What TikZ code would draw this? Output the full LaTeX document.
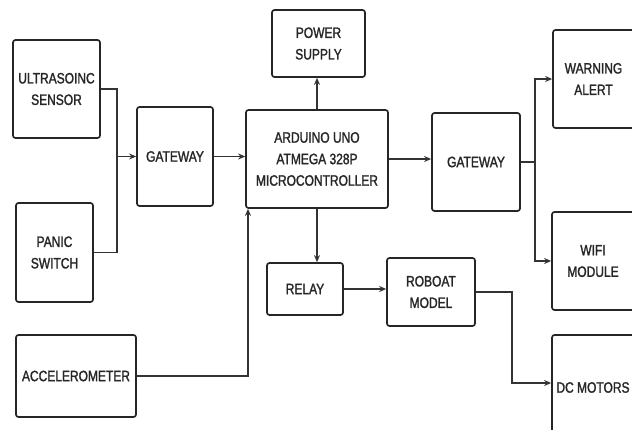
\documentclass[tikz,border=0pt]{standalone}
\usepackage{fontspec}
\setmainfont{Liberation Sans}[FakeStretch=0.8,FakeBold=1.5]
\usetikzlibrary{arrows.meta}
\begin{document}
\begin{tikzpicture}[x=1pt,y=-1pt,
  blk/.style={draw=black!85,line width=1.7pt,rounded corners=2.5pt,inner sep=0pt,align=center,
    font=\fontsize{15}{21.5}\selectfont,text=black!85},
  conn/.style={draw=black!80,line width=1.3pt},
  arr/.style={conn,-{Stealth[length=7pt,width=6pt]}}]
\useasboundingbox[fill=white] (0,0) rectangle (632,430);
\node[blk,minimum width=87pt,minimum height=98pt] (us) at (56.5,89) {ULTRASOINC\\SENSOR};
\node[blk,minimum width=77pt,minimum height=99pt] (ps) at (54.5,252.5) {PANIC\\SWITCH};
\node[blk,minimum width=120pt,minimum height=82pt] (acc) at (76,376) {ACCELEROMETER};
\node[blk,minimum width=76pt,minimum height=99pt] (gw1) at (175,156.5) {GATEWAY};
\node[blk,minimum width=142pt,minimum height=98pt] (ard) at (317,159) {ARDUINO UNO\\ATMEGA 328P\\MICROCONTROLLER};
\node[blk,minimum width=93pt,minimum height=67pt] (pwr) at (318.5,43.5) {POWER\\SUPPLY};
\node[blk,minimum width=88pt,minimum height=98pt] (gw2) at (476,162) {GATEWAY};
\node[blk,minimum width=81pt,minimum height=98pt] (warn) at (593.5,79) {WARNING\\ALERT};
\node[blk,minimum width=82pt,minimum height=98pt] (wifi) at (593,261) {WIFI\\MODULE};
\node[blk,minimum width=82pt,minimum height=105pt] (dc) at (593,387.5) {DC MOTORS};
\node[blk,minimum width=76pt,minimum height=52pt] (relay) at (305,289) {RELAY};
\node[blk,minimum width=88pt,minimum height=68pt] (rob) at (431,292) {ROBOAT\\MODEL};
% connectors
\coordinate (j1) at (117,156.5);
\draw[conn] (us.east) -| (j1);
\draw[conn] (ps.east) -| (j1);
\draw[arr] (j1) -- (gw1.west);
\draw[arr] (gw1.east) -- (gw1.east -| ard.west);
\draw[arr] (ard.north) -- (ard.north |- pwr.south);
\draw[arr] (ard.east) -- (ard.east -| gw2.west);
\coordinate (j2) at (535,162);
\draw[conn] (gw2.east) -- (j2);
\draw[arr] (j2) |- (warn.west);
\draw[arr] (j2) |- (wifi.west);
\draw[arr] (ard.south) -- (ard.south |- relay.north);
\draw[arr] (relay.east) -- (relay.east -| rob.west);
\coordinate (j3) at (512,383);
\draw[arr] (rob.east) -| (j3) -- (j3 -| dc.west);
\coordinate (j4) at (248,376);
\draw[arr] (acc.east) -- (j4) -- (j4 |- ard.south);
\end{tikzpicture}
\end{document}
